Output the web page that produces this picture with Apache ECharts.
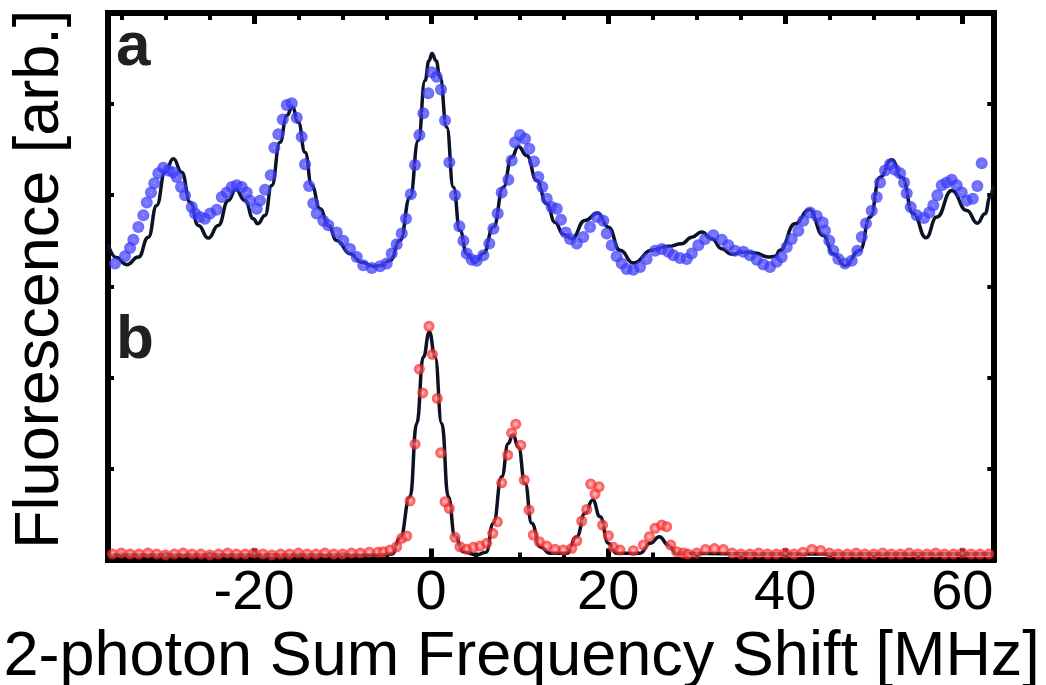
<!DOCTYPE html>
<html>
<head>
<meta charset="utf-8">
<script src="https://cdn.jsdelivr.net/npm/echarts@6/dist/echarts.min.js"></script>
<style>
html,body{margin:0;padding:0;background:#fff;}
#chart{width:1046px;height:685px;}
</style>
</head>
<body>
<div id="chart"></div>
<script>
// ---- data ----
const xMajorTicks = [-20, 0, 20, 40, 60];
const xMinorTicks = [-35, -30, -25, -15, -10, -5, 5, 10, 15, 25, 30, 35, 45, 50, 55];
const panelLabels = ['a', 'b'];

// panel a: measured points (blue)
const blueX = [-35.71,-34.58,-34.01,-33.64,-33.07,-32.51,-32.12,-31.64,-31.27,-30.81,-30.25,-29.68,-29.12,-28.74,-28.25,-27.80,-27.04,-26.67,-26.10,-25.54,-24.97,-24.22,-23.65,-23.09,-22.52,-21.96,-21.39,-20.83,-20.46,-19.70,-19.33,-18.76,-18.12,-17.71,-17.26,-16.76,-16.31,-15.75,-15.18,-14.62,-14.24,-13.79,-13.31,-12.92,-12.18,-11.61,
-10.66,-9.92,-9.16,-8.40,-7.66,-6.71,-5.77,-5.02,-4.45,-3.89,-3.32,-2.84,-2.30,-1.82,-1.33,-0.88,-0.32,0.07,0.63,1.12,1.57,2.06,2.70,3.19,3.64,4.02,4.59,5.15,5.90,6.57,7.03,7.52,7.97,8.72,9.10,9.48,10.04,10.61,11.09,11.62,12.11,12.56,13.06,13.62,
14.19,14.67,15.20,15.69,16.45,17.19,17.95,18.71,19.45,19.84,20.40,20.96,21.53,22.09,22.84,23.60,24.35,25.29,26.05,26.79,27.36,28.11,28.87,29.44,30.18,30.94,31.88,32.83,33.57,34.33,35.27,36.02,36.78,37.52,38.28,39.04,
39.60,40.17,40.73,41.48,42.04,42.80,43.56,44.23,44.49,44.98,45.43,46.00,46.75,47.51,48.14,48.64,49.12,49.77,50.33,50.71,51.27,51.84,52.40,52.97,53.42,53.72,54.17,54.85,55.68,56.27,56.73,57.18,57.68,58.24,58.80,59.37,59.94,60.50,61.18,61.70,62.19];
const blueY = [3.25,3.33,3.42,3.51,3.65,3.78,3.92,4.03,4.13,4.24,4.30,4.27,4.25,4.20,4.09,4.00,3.87,3.80,3.76,3.74,3.80,3.84,3.98,4.03,4.09,4.11,4.09,4.03,3.94,3.85,3.94,4.06,4.22,4.52,4.67,4.83,4.99,5.01,4.85,4.64,4.34,4.10,3.91,3.80,3.72,3.67,
3.59,3.50,3.41,3.32,3.23,3.20,3.22,3.25,3.36,3.46,3.58,3.74,4.01,4.33,4.66,4.90,5.12,5.35,5.30,5.16,4.82,4.36,4.00,3.66,3.50,3.36,3.29,3.28,3.34,3.47,3.63,3.80,4.03,4.17,4.38,4.58,4.66,4.62,4.51,4.37,4.20,4.09,3.96,3.87,
3.85,3.73,3.59,3.52,3.47,3.54,3.65,3.76,3.72,3.58,3.45,3.33,3.25,3.19,3.18,3.21,3.30,3.39,3.41,3.38,3.34,3.31,3.30,3.36,3.45,3.52,3.56,3.51,3.45,3.39,3.38,3.34,3.29,3.24,3.21,3.27,
3.32,3.43,3.52,3.61,3.72,3.81,3.77,3.70,3.61,3.50,3.39,3.30,3.25,3.28,3.39,3.54,3.69,3.83,3.98,4.14,4.27,4.34,4.28,4.24,4.14,4.02,3.87,3.78,3.75,3.81,3.89,4.00,4.11,4.14,4.17,4.11,4.03,3.94,3.96,4.10,4.35];

// panel a: fit curve
const fitAX = [-36.5,-35.59,-34.38,-33.07,-31.94,-31.00,-30.06,-29.12,-28.17,-27.23,-26.30,-25.17,-24.04,-22.91,-22.07,-21.02,-20.08,-19.59,-18.76,-18.01,-17.07,-16.31,-15.68,-15.00,-14.24,-13.49,-12.55,-11.61,-10.66,-9.16,-7.81,-6.53,-5.55,-4.64,-3.51,-2.38,-1.45,-0.69,-0.24,0.10,0.55,1.00,1.76,2.51,3.26,4.02,4.96,5.90,7.03,8.16,9.10,9.85,10.80,11.93,13.06,14.00,14.90,15.88,17.38,18.82,20.02,21.34,22.84,24.92,26.79,28.31,29.44,30.57,31.70,32.83,33.95,35.08,36.59,38.09,38.85,39.41,41.10,42.72,44.30,45.43,46.75,48.44,49.57,50.70,52.03,53.16,54.47,55.90,57.11,58.81,60.50,61.70,62.57,63.13,63.5];
const fitAY = [3.46,3.317,3.237,3.320,3.539,3.887,4.252,4.399,4.252,3.923,3.668,3.529,3.668,3.942,4.062,3.942,3.741,3.686,3.777,4.106,4.581,4.874,4.965,4.800,4.471,4.106,3.851,3.668,3.503,3.357,3.262,3.218,3.229,3.284,3.503,3.978,4.600,5.258,5.477,5.554,5.477,5.294,4.746,4.088,3.613,3.357,3.265,3.357,3.649,4.088,4.417,4.534,4.435,4.161,3.906,3.701,3.575,3.522,3.723,3.803,3.649,3.394,3.254,3.394,3.438,3.467,3.539,3.596,3.522,3.412,3.350,3.375,3.364,3.320,3.328,3.394,3.686,3.840,3.558,3.357,3.229,3.394,3.759,4.197,4.388,4.197,3.796,3.533,3.759,4.051,3.832,3.693,3.796,3.978,4.11];

// panel b: measured points (red)
const redX = [-36,-35,-34,-33,-32,-31,-30,-29,-28,-27,-26,-25,-24,-23,-22,-21,-20,-19,-18,-17,-16,-15,-14,-13,-12,-11,-10,-9,-8,-7,-6,
-5.40,-4.64,-3.89,-3.32,-2.76,-2.38,-1.82,-1.33,-0.95,-0.24,0.14,0.70,1.08,1.57,2.06,2.70,3.26,4.02,4.77,5.52,6.28,6.96,7.48,7.97,8.65,9.10,9.56,10.12,10.53,11.06,11.54,12.22,13.06,14.00,14.93,15.88,16.45,17.01,17.58,18.03,18.51,18.97,19.37,20.02,20.58,21.34,22.84,23.97,24.65,25.29,26.05,26.61,27.06,27.74,
28.5,29,30,31,32,33,34,35,36,37,38,39,40,41,42,43,44,45,46,47,48,49,50,51,52,53,54,55,56,57,58,59,60,61,62,63];
const redY = [0.06,0.07,0.06,0.06,0.07,0.06,0.05,0.06,0.07,0.06,0.06,0.05,0.06,0.07,0.06,0.06,0.07,0.06,0.05,0.06,0.06,0.07,0.06,0.06,0.07,0.06,0.06,0.07,0.07,0.08,0.08,
0.086,0.104,0.140,0.232,0.258,0.645,1.266,2.089,1.829,2.560,2.253,1.768,1.171,0.634,0.561,0.243,0.140,0.112,0.134,0.148,0.178,0.287,0.414,0.842,1.146,1.390,1.486,1.255,0.872,0.543,0.269,0.195,0.148,0.112,0.104,0.123,0.206,0.422,0.550,0.828,0.718,0.798,0.378,0.261,0.134,0.104,0.096,0.159,0.25,0.342,0.378,0.360,0.159,0.086,
0.07,0.06,0.07,0.11,0.12,0.11,0.07,0.06,0.06,0.07,0.06,0.06,0.07,0.06,0.08,0.11,0.10,0.07,0.06,0.06,0.07,0.06,0.06,0.07,0.06,0.06,0.07,0.06,0.06,0.07,0.06,0.06,0.07,0.06,0.06,0.06];

// panel b: fit curve
const fitBX = [-36.5,-20,-5.77,-4.42,-3.51,-2.38,-1.63,-0.88,-0.20,0.44,1.20,1.94,2.70,3.64,5.15,6.20,7.03,7.97,8.72,9.22,9.85,10.61,11.36,12.30,13.43,15.32,16.45,17.38,18.25,19.08,20.02,20.96,23.60,24.73,25.78,26.79,27.74,40,63.5];
const fitBY = [0.05,0.05,0.05,0.06,0.232,0.689,1.493,2.224,2.498,2.224,1.493,0.689,0.25,0.086,0.05,0.08,0.397,0.908,1.274,1.376,1.237,0.836,0.397,0.14,0.068,0.068,0.25,0.507,0.652,0.469,0.178,0.068,0.068,0.178,0.25,0.159,0.068,0.06,0.06];

// ---- chart ----
const FONT = '"Liberation Sans", Arial, Helvetica, sans-serif';
const zip = (xs, ys) => xs.map((x, i) => [x, ys[i]]);
const X_MIN = -36.5, X_MAX = 63.5;

function xAxisDef(pos, values, major) {
  return {
    type: 'value', position: pos, min: X_MIN, max: X_MAX,
    axisLine: { show: major, onZero: false, lineStyle: { color: '#000', width: 6, cap: 'square' } },
    axisTick: { show: true, inside: true, length: major ? 11 : 7, customValues: values,
                lineStyle: { color: '#000', width: major ? 5 : 4 } },
    axisLabel: { show: pos === 'bottom' && major, customValues: values, fontSize: 56, color: '#000',
                 margin: 6, fontFamily: FONT },
    splitLine: { show: false }
  };
}
function yAxisDef(pos) {
  return {
    type: 'value', position: pos, min: 0, max: 6, interval: 1,
    axisLine: { show: true, onZero: false, lineStyle: { color: '#000', width: 6, cap: 'square' } },
    axisTick: { show: true, inside: true, length: 6, lineStyle: { color: '#000', width: 4 } },
    axisLabel: { show: false },
    splitLine: { show: false }
  };
}

const xBottom = xAxisDef('bottom', xMajorTicks, true);
xBottom.name = '2-photon Sum Frequency Shift [MHz]';
xBottom.nameLocation = 'middle';
xBottom.nameGap = 58;
xBottom.nameTextStyle = { fontSize: 63, color: '#000', fontFamily: FONT, padding: [0, 58, 0, 0] };

const yLeft = yAxisDef('left');
yLeft.name = 'Fluorescence [arb.]';
yLeft.nameLocation = 'middle';
yLeft.nameGap = 36;
yLeft.nameTextStyle = { fontSize: 63, color: '#000', fontFamily: FONT, padding: [0, 0, 0, 14] };

const blueFill = { type: 'radial', x: 0.5, y: 0.5, r: 0.5, colorStops: [
  { offset: 0, color: 'rgba(150,150,230,0.95)' }, { offset: 0.2, color: 'rgba(70,70,252,0.92)' },
  { offset: 1, color: 'rgba(50,50,250,0.9)' } ] };
const redFill = { type: 'radial', x: 0.5, y: 0.5, r: 0.5, colorStops: [
  { offset: 0, color: 'rgba(255,190,190,0.9)' }, { offset: 0.3, color: 'rgba(255,110,110,0.85)' },
  { offset: 0.6, color: 'rgba(255,50,50,0.9)' }, { offset: 1, color: 'rgba(245,30,30,0.9)' } ] };

const chart = echarts.init(document.getElementById('chart'), null, { renderer: 'canvas' });
chart.setOption({
  animation: false,
  backgroundColor: '#fff',
  grid: { left: 108, right: 52.7, top: 13, bottom: 125.5, containLabel: false, outerBoundsMode: 'none' },
  xAxis: [ xBottom, xAxisDef('bottom', xMinorTicks, false), xAxisDef('top', xMajorTicks, true), xAxisDef('top', xMinorTicks, false) ],
  yAxis: [ yLeft, yAxisDef('right') ],
  graphic: [
    { type: 'text', left: 116, top: 17, z: 10, style: { text: panelLabels[0], fontSize: 62, fontWeight: 'bold', fill: '#231f20', fontFamily: FONT } },
    { type: 'text', left: 116, top: 310, z: 10, style: { text: panelLabels[1], fontSize: 62, fontWeight: 'bold', fill: '#231f20', fontFamily: FONT } }
  ],
  series: [
    { type: 'line', xAxisIndex: 0, yAxisIndex: 0, data: zip(fitAX, fitAY), showSymbol: false, smooth: 0.5, smoothMonotone: 'x',
      lineStyle: { color: '#0b1224', width: 3.5 }, z: 2 },
    { type: 'scatter', xAxisIndex: 0, yAxisIndex: 0, data: zip(blueX, blueY), symbol: 'circle', symbolSize: 12,
      itemStyle: { color: blueFill }, z: 3 },
    { type: 'line', xAxisIndex: 0, yAxisIndex: 0, data: zip(fitBX, fitBY), showSymbol: false, smooth: 0.5, smoothMonotone: 'x',
      lineStyle: { color: '#0b1224', width: 3.5 }, z: 2 },
    { type: 'scatter', xAxisIndex: 0, yAxisIndex: 0, data: zip(redX, redY), symbol: 'circle', symbolSize: 11,
      itemStyle: { color: redFill }, z: 3 }
  ]
});
</script>
</body>
</html>
